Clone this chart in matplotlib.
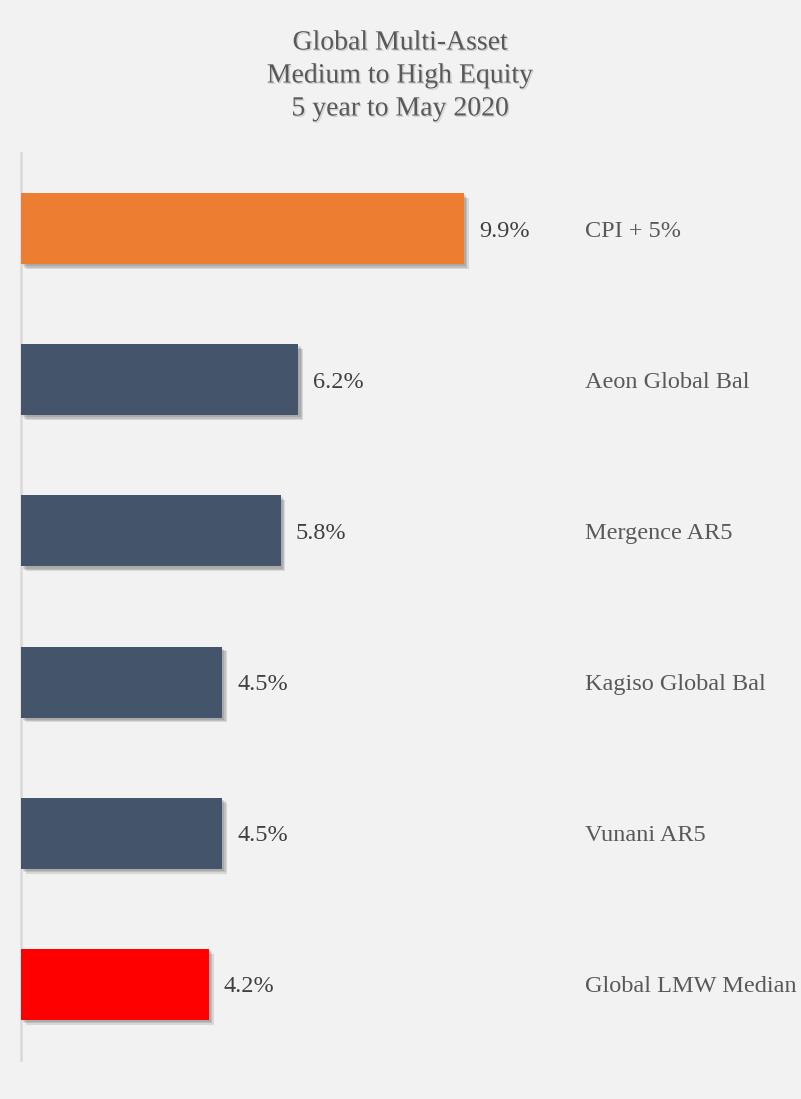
import matplotlib
matplotlib.use("Agg")
import matplotlib.pyplot as plt
import matplotlib.patheffects as pe
import matplotlib.transforms as mtransforms
import numpy as np

# data
funds = ["CPI + 5%", "Aeon Global Bal", "Mergence AR5", "Kagiso Global Bal",
         "Vunani AR5", "Global LMW Median"]
returns = [9.9, 6.2, 5.8, 4.5, 4.5, 4.2]
colors = ["#ED7D31", "#44546A", "#44546A", "#44546A", "#44546A", "#FF0000"]
title_lines = ["Global Multi-Asset", "Medium to High Equity", "5 year to May 2020"]

bg = "#F2F2F2"
plt.rcParams["font.family"] = ["Liberation Serif", "DejaVu Serif"]

fig = plt.figure(figsize=(8.01, 10.99), dpi=100, facecolor=bg)
ax = fig.add_axes([21 / 801, 1 - 1060 / 1099, 780 / 801, 907 / 1099])
ax.set_facecolor(bg)

y = np.arange(len(funds))
bars = ax.barh(y, returns, height=0.47, color=colors, zorder=3)
# soft drop shadow, built from a few offset layers
shadow = [pe.SimplePatchShadow(offset=(o, -o), alpha=0.11, shadow_rgbFace="#000000")
          for o in (3.5, 2.5, 1.5)]
for b in bars:
    b.set_path_effects(shadow + [pe.Normal()])

ax.set_xlim(0, 780 / 44.75)
ax.set_ylim(len(funds) - 0.5, -0.5)

# value labels next to bars
for yi, v in zip(y, returns):
    ax.text(v + 15 / 44.75, yi, f"{v:.1f}%", va="center_baseline", ha="left",
            fontsize=17.5, color="#404040")

# fund names in a column on the right
trans = mtransforms.blended_transform_factory(ax.transAxes, ax.transData)
for yi, name in zip(y, funds):
    ax.text((585 - 21) / 780, yi, name, transform=trans, va="center_baseline", ha="left",
            fontsize=17.5, color="#595959")

for s in ["top", "right", "bottom"]:
    ax.spines[s].set_visible(False)
ax.spines["left"].set_color("#D9D9D9")
ax.spines["left"].set_linewidth(1.8)
ax.set_xticks([])
ax.set_yticks([])

fig.text(400 / 801, 1 - 76 / 1099, "\n".join(title_lines), ha="center", va="center",
         fontsize=20, color="#595959", linespacing=1.42,
         path_effects=[pe.withSimplePatchShadow(offset=(1, -1), alpha=0.15)])

fig.savefig("out.png", dpi=100, facecolor=bg)
